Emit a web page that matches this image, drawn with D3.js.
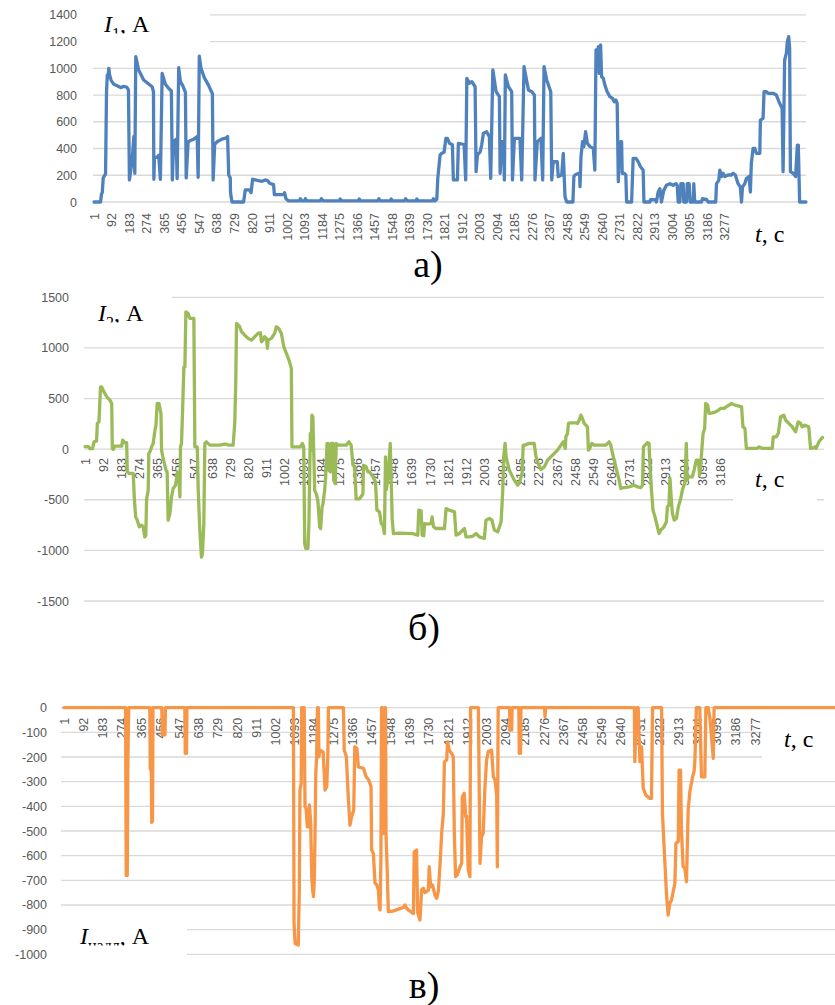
<!DOCTYPE html>
<html>
<head>
<meta charset="utf-8">
<script src="https://cdn.jsdelivr.net/npm/d3@7"></script>
<style>
  body { margin: 0; background: #fff; }
  svg { display: block; }
</style>
</head>
<body>
<svg id="chart" width="835" height="1005"></svg>
<script>
// ---- data -------------------------------------------------------------
const sampleCount = 3700;            // seconds of the recorded cycle

const categoryTicks = [1, 92, 183, 274, 365, 456, 547, 638, 729, 820, 911, 1002,
  1093, 1184, 1275, 1366, 1457, 1548, 1639, 1730, 1821, 1912, 2003, 2094, 2185,
  2276, 2367, 2458, 2549, 2640, 2731, 2822, 2913, 3004, 3095, 3186, 3277, 3368,
  3459, 3550, 3641];

const ticksI1 = [0, 200, 400, 600, 800, 1000, 1200, 1400];
const ticksI2 = [-1500, -1000, -500, 0, 500, 1000, 1500];
const ticksI3 = [0, -100, -200, -300, -400, -500, -600, -700, -800, -900, -1000];

// feeder current I1, A  — [t, value]
const currentI1 = [
  [1,0],[35,0],[40,60],[44,70],[49,180],[61,210],[66,820],[70,950],[73,930],[78,1000],[82,950],[90,910],
  [104,880],[121,870],[142,855],[153,865],[170,860],[180,840],[185,165],[199,310],[208,490],[213,215],
  [218,1087],[233,987],[259,912],[285,883],[303,862],[310,825],[312,170],[315,330],[329,335],[337,350],
  [346,170],[355,962],[372,880],[389,850],[403,830],[408,165],[415,450],[428,470],[433,175],[441,1005],
  [450,900],[462,870],[476,820],[480,180],[490,450],[502,460],[519,470],[537,490],[542,185],[548,1090],
  [557,1000],[574,930],[597,870],[616,810],[620,165],[628,430],[640,450],[666,470],[689,480],[695,490],
  [701,200],[709,180],[710,80],[713,40],[718,0],[778,0],[787,90],[809,90],[817,70],[825,170],[856,160],
  [874,155],[891,165],[903,160],[913,140],[934,130],[938,55],[986,55],[991,70],[998,25],[1012,8],
  [1068,8],[1073,25],[1080,8],[1095,8],[1099,25],[1106,8],[1176,8],[1182,25],[1192,8],[1275,8],[1280,22],
  [1288,8],[1374,8],[1379,22],[1387,8],[1476,8],[1481,25],[1489,8],[1540,8],[1545,22],[1552,8],[1615,8],
  [1620,25],[1628,8],[1673,8],[1678,22],[1685,8],[1759,8],[1764,25],[1772,8],[1782,20],[1787,177],
  [1799,352],[1808,364],[1820,374],[1829,476],[1837,476],[1848,439],[1863,429],[1868,165],[1889,165],
  [1894,439],[1924,430],[1932,165],[1938,925],[1951,888],[1964,900],[1981,862],[1986,227],[1993,352],
  [2007,374],[2015,426],[2024,514],[2041,526],[2055,489],[2062,177],[2073,987],[2090,825],[2107,788],
  [2111,215],[2119,451],[2128,451],[2133,165],[2138,950],[2154,862],[2171,825],[2175,165],[2185,476],
  [2214,476],[2223,165],[2235,1012],[2258,838],[2275,825],[2289,800],[2292,165],[2304,451],[2323,476],
  [2332,165],[2339,1012],[2353,912],[2374,825],[2379,165],[2387,301],[2408,301],[2413,190],[2431,202],
  [2439,364],[2448,40],[2457,0],[2489,0],[2494,190],[2500,202],[2517,214],[2524,214],[2526,115],
  [2531,339],[2539,451],[2546,414],[2555,526],[2564,439],[2578,414],[2595,401],[2603,239],[2609,1137],
  [2616,1087],[2621,1162],[2626,962],[2633,1174],[2638,937],[2647,925],[2655,875],[2667,825],[2681,788],
  [2695,775],[2704,750],[2712,763],[2719,738],[2725,152],[2730,439],[2737,451],[2742,451],[2745,215],
  [2754,215],[2764,202],[2768,0],[2794,0],[2802,327],[2816,327],[2828,302],[2840,264],[2854,239],
  [2858,0],[2889,0],[2892,17],[2920,17],[2923,0],[2932,75],[2941,100],[2949,0],[2961,87],[2975,125],
  [2993,137],[3010,125],[3024,137],[3031,125],[3036,0],[3045,0],[3050,137],[3062,137],[3065,0],[3079,0],
  [3083,137],[3093,137],[3098,0],[3114,0],[3117,137],[3122,0],[3157,0],[3162,25],[3183,20],[3192,0],
  [3231,0],[3235,137],[3247,162],[3252,239],[3261,190],[3269,215],[3278,190],[3295,202],[3313,202],
  [3321,215],[3333,202],[3347,137],[3359,112],[3365,0],[3370,112],[3382,137],[3390,175],[3404,190],
  [3411,75],[3416,289],[3425,401],[3434,401],[3442,364],[3460,364],[3463,613],[3477,626],[3482,825],
  [3494,825],[3503,813],[3529,813],[3546,800],[3563,738],[3576,701],[3581,227],[3589,1062],[3598,1112],
  [3603,1199],[3610,1237],[3615,1149],[3619,227],[3633,215],[3646,190],[3655,426],[3660,426],[3667,0],
  [3700,0]
];

// feeder current I2, A
const currentI2 = [
  [1,25],[18,25],[26,5],[39,5],[46,72],[59,82],[63,254],[71,270],[79,616],[84,616],[96,566],[110,517],
  [126,484],[135,451],[138,5],[143,-3],[148,30],[185,30],[190,89],[201,63],[210,63],[213,-224],[223,-240],
  [243,-240],[248,-471],[255,-669],[263,-702],[273,-768],[285,-751],[293,-768],[301,-867],[306,-850],
  [310,-491],[318,-409],[321,-43],[330,-10],[335,23],[343,56],[352,188],[357,237],[363,451],[372,451],
  [382,352],[385,-10],[393,-92],[407,-208],[413,-224],[418,-702],[427,-636],[435,-471],[443,-389],
  [455,-356],[465,-224],[473,-323],[477,-471],[480,23],[485,56],[490,352],[497,813],[502,813],[507,1357],
  [518,1340],[527,1291],[547,1291],[552,23],[564,23],[569,-409],[577,-805],[585,-1067],[590,-1034],
  [597,-735],[602,56],[610,72],[627,40],[677,40],[702,50],[710,50],[719,40],[744,40],[752,254],[757,649],
  [761,1242],[777,1209],[786,1160],[802,1127],[819,1094],[836,1077],[852,1110],[869,1143],[881,1150],
  [886,1061],[894,1077],[902,1110],[911,1094],[916,995],[919,1077],[936,1094],[952,1143],[961,1209],
  [972,1193],[986,1143],[998,1012],[1011,946],[1024,880],[1036,798],[1039,23],[1081,23],[1091,56],
  [1098,23],[1103,-932],[1108,-981],[1119,-981],[1124,-735],[1128,-257],[1131,155],[1136,-10],[1139,336],
  [1144,320],[1153,-409],[1161,-442],[1169,-508],[1178,-768],[1183,-784],[1190,-570],[1195,-537],
  [1203,-409],[1208,-277],[1215,56],[1220,56],[1225,-208],[1231,-224],[1236,56],[1245,56],[1248,-306],
  [1256,-339],[1261,56],[1270,40],[1311,40],[1325,72],[1336,40],[1345,-158],[1353,-174],[1361,-491],
  [1378,-491],[1386,-468],[1395,-442],[1398,-158],[1411,-174],[1420,-224],[1428,-224],[1445,-273],
  [1458,-323],[1465,-603],[1478,-620],[1487,-735],[1495,-751],[1503,-834],[1508,-76],[1512,-400],
  [1520,-293],[1532,56],[1542,-702],[1548,-834],[1578,-830],[1645,-834],[1670,-850],[1675,-603],
  [1687,-610],[1692,-850],[1700,-855],[1704,-735],[1712,-740],[1737,-735],[1742,-669],[1749,-768],
  [1762,-784],[1804,-784],[1812,-587],[1829,-603],[1854,-619],[1862,-850],[1879,-833],[1904,-784],
  [1912,-866],[1929,-866],[1946,-860],[1962,-833],[1979,-866],[2004,-883],[2012,-701],[2029,-685],
  [2042,-700],[2054,-800],[2071,-817],[2088,-718],[2096,-421],[2101,-76],[2108,56],[2113,-76],[2129,-208],
  [2154,-306],[2171,-356],[2179,-339],[2193,-240],[2199,40],[2209,40],[2226,56],[2254,56],[2263,-76],
  [2274,-142],[2288,-201],[2305,-175],[2321,-109],[2346,-59],[2371,-10],[2388,40],[2400,72],[2410,7],
  [2413,122],[2421,155],[2426,254],[2438,260],[2463,260],[2471,254],[2480,287],[2488,336],[2496,303],
  [2505,254],[2521,221],[2526,-10],[2533,7],[2543,56],[2555,40],[2613,40],[2630,72],[2638,40],[2647,-43],
  [2663,-175],[2680,-306],[2688,-389],[2705,-379],[2730,-372],[2755,-356],[2772,-372],[2789,-379],
  [2797,-356],[2802,23],[2810,40],[2822,63],[2830,56],[2835,-175],[2842,-405],[2850,-603],[2860,-669],
  [2872,-767],[2880,-833],[2889,-800],[2905,-767],[2917,-718],[2922,-570],[2930,-553],[2935,-290],
  [2942,-504],[2947,-635],[2956,-701],[2967,-685],[2977,-570],[2989,-488],[2997,-405],[3011,-323],
  [3017,56],[3021,-306],[3027,-273],[3047,-273],[3056,-208],[3067,-109],[3077,-109],[3084,-257],
  [3092,-76],[3101,155],[3109,204],[3114,451],[3124,435],[3131,353],[3147,359],[3164,369],[3178,386],
  [3189,402],[3206,402],[3223,425],[3244,451],[3261,435],[3281,425],[3294,418],[3301,221],[3311,204],
  [3318,7],[3339,7],[3373,7],[3381,23],[3398,7],[3448,7],[3453,122],[3468,122],[3478,155],[3490,320],
  [3506,336],[3515,287],[3531,254],[3548,221],[3565,171],[3578,270],[3590,254],[3598,221],[3611,237],
  [3631,221],[3640,7],[3648,7],[3662,23],[3668,7],[3682,72],[3695,105],[3700,115]
];

// excess (overload) current I_надл, A
const currentExcess = [
  [1,0],[293,0],[296,-680],[301,-680],[304,-200],[308,0],[408,0],[410,-250],[415,-240],[417,-465],
  [421,-460],[423,0],[465,0],[467,-110],[480,-110],[482,0],[574,0],[576,-185],[582,-185],[584,0],
  [1089,0],[1092,-874],[1097,-956],[1112,-962],[1117,-739],[1120,-334],[1126,-307],[1128,0],[1140,0],
  [1144,-401],[1149,-408],[1155,-483],[1160,-483],[1165,-394],[1171,-469],[1176,-685],[1180,-739],
  [1184,-766],[1188,-700],[1192,-483],[1195,-266],[1199,-199],[1203,0],[1207,0],[1210,-199],[1215,-172],
  [1230,-180],[1239,-334],[1247,-320],[1252,-200],[1255,0],[1326,0],[1330,-172],[1340,-199],[1349,-361],
  [1357,-476],[1365,-442],[1375,-415],[1380,-158],[1390,-165],[1397,-240],[1421,-246],[1434,-280],
  [1446,-293],[1457,-320],[1460,-577],[1468,-590],[1476,-712],[1484,-718],[1492,-739],[1497,-813],
  [1500,-820],[1504,-600],[1507,0],[1512,0],[1515,-510],[1520,-510],[1523,0],[1526,0],[1528,-510],
  [1534,-665],[1539,-827],[1560,-825],[1594,-815],[1610,-810],[1618,-800],[1626,-815],[1650,-830],
  [1658,-835],[1662,-584],[1673,-577],[1678,-830],[1689,-861],[1697,-739],[1705,-732],[1713,-750],
  [1729,-740],[1733,-645],[1740,-726],[1749,-719],[1760,-760],[1768,-773],[1776,-746],[1784,-640],
  [1792,-509],[1800,-428],[1805,-219],[1816,-212],[1820,-138],[1828,-172],[1839,-185],[1847,-199],
  [1852,-509],[1858,-685],[1866,-678],[1879,-645],[1887,-631],[1890,-361],[1899,-347],[1906,-442],
  [1910,-440],[1918,-658],[1926,-685],[1929,0],[1966,0],[1974,-631],[1981,-523],[1989,-509],[1997,-327],
  [2005,-212],[2013,-178],[2029,-172],[2037,-280],[2045,-293],[2053,-354],[2056,-645],[2060,0],[2114,0],
  [2116,-91],[2124,-91],[2126,0],[2158,0],[2160,-185],[2166,-185],[2168,0],[2280,0],[2282,-37],[2285,0],
  [2706,0],[2708,-219],[2716,0],[2724,0],[2732,-219],[2740,-159],[2748,-327],[2760,-354],[2779,-368],
  [2787,-368],[2792,0],[2835,0],[2839,-428],[2850,-618],[2858,-753],[2866,-841],[2874,-793],[2882,-780],
  [2898,-712],[2903,-550],[2914,-543],[2918,-253],[2925,-253],[2929,-496],[2937,-645],[2945,-650],
  [2953,-706],[2961,-415],[2969,-340],[2982,-280],[2989,-259],[2993,-212],[3000,0],[3016,0],[3024,-280],
  [3040,-280],[3045,0],[3056,0],[3064,-40],[3080,-205],[3084,0],[3700,0]
];

// ---- drawing ----------------------------------------------------------
const svg = d3.select("#chart");
const TICK_FONT = "'Liberation Sans', Arial, sans-serif";
const SERIF = "'Liberation Serif', 'Times New Roman', serif";
const GRID = "#d9d9d9";
const TICK_COLOR = "#595959";
const plainNumber = d => String(d);   // hyphen-minus, no grouping

function drawPanel(p) {
  const g = svg.append("g");
  const x = d3.scaleLinear().domain([1, sampleCount]).range([p.xFirst, p.xLast]);
  const y = d3.scaleLinear().domain(p.yDomain).range(p.yRange);

  // horizontal gridlines
  g.append("g").selectAll("line").data(p.yTicks).join("line")
    .attr("x1", p.gridLeft).attr("x2", p.gridRight)
    .attr("y1", d => y(d)).attr("y2", d => y(d))
    .attr("stroke", GRID).attr("stroke-width", 1.3);

  // value axis labels
  const yAxis = d3.axisLeft(y).tickValues(p.yTicks).tickSize(0).tickPadding(0)
    .tickFormat(plainNumber);
  const ya = g.append("g").attr("transform", `translate(${p.yLabelRight},0)`).call(yAxis);
  ya.select(".domain").remove();
  ya.selectAll("text").attr("font-family", TICK_FONT).attr("font-size", 12.5)
    .attr("fill", TICK_COLOR);

  // category labels (rotated), hung from the zero level; only those inside the page
  const zeroY = y(0);
  const shownTicks = categoryTicks.filter(t => x(t) < 828);
  const xAxis = d3.axisBottom(x).tickValues(shownTicks).tickSize(0).tickPadding(0)
    .tickFormat(plainNumber);
  const xa = g.append("g").attr("transform", `translate(0,${zeroY + p.labelGap})`).call(xAxis);
  xa.select(".domain").remove();
  xa.selectAll("text")
    .attr("font-family", TICK_FONT).attr("font-size", 12.5).attr("fill", TICK_COLOR)
    .attr("transform", "rotate(-90)").attr("text-anchor", "end")
    .attr("x", 0).attr("y", 0).attr("dy", "0.35em");

  // series line
  const line = d3.line().x(d => x(d[0])).y(d => y(d[1]));
  g.append("path").datum(p.data)
    .attr("d", line).attr("fill", "none")
    .attr("stroke", p.color).attr("stroke-width", 3.3)
    .attr("stroke-linejoin", "round").attr("stroke-linecap", "round");

  // white label boxes over the plot
  p.boxes.forEach(b => {
    g.append("rect").attr("x", b.x).attr("y", b.y).attr("width", b.w).attr("height", b.h)
      .attr("fill", "#fff");
  });
  return g;
}

function currentTitle(g, id, x, baseline, sub, clipBottom) {
  const clip = svg.append("clipPath").attr("id", id);
  clip.append("rect").attr("x", x - 10).attr("y", baseline - 40)
    .attr("width", 140).attr("height", clipBottom - (baseline - 40));
  const t = g.append("text").attr("clip-path", `url(#${id})`)
    .attr("x", x).attr("y", baseline)
    .attr("font-family", SERIF).attr("font-size", 24).attr("fill", "#000");
  t.append("tspan").attr("font-style", "italic").text("I");
  t.append("tspan").attr("font-size", 16).attr("dy", 7).text(sub);
  t.append("tspan").attr("dy", -7).text(", А");
}

function timeTitle(g, x, baseline) {
  const t = g.append("text").attr("x", x).attr("y", baseline)
    .attr("font-family", SERIF).attr("font-size", 24).attr("fill", "#000");
  t.append("tspan").attr("font-style", "italic").text("t");
  t.append("tspan").text(", с");
}

function panelLetter(x, baseline, label) {
  svg.append("text").attr("x", x).attr("y", baseline).attr("text-anchor", "middle")
    .attr("font-family", SERIF).attr("font-size", 38).attr("fill", "#000").text(label);
}

// panel а) — I1
const gA = drawPanel({
  data: currentI1, color: "#4f81bd",
  xFirst: 94, xLast: 806, gridLeft: 93, gridRight: 806,
  yDomain: [0, 1400], yRange: [202, 14.8], yTicks: ticksI1,
  yLabelRight: 77, labelGap: 11,
  boxes: [{x: 93, y: 6, w: 117, h: 40}, {x: 735, y: 206, w: 80, h: 48}]
});
currentTitle(gA, "clipA", 104, 32, "1", 33.5);
timeTitle(gA, 755, 242);
panelLetter(428, 277, "а)");

// panel б) — I2
const gB = drawPanel({
  data: currentI2, color: "#9bbb59",
  xFirst: 85, xLast: 822.5, gridLeft: 84, gridRight: 824,
  yDomain: [-1500, 1500], yRange: [601, 297.3], yTicks: ticksI2,
  yLabelRight: 69, labelGap: 9,
  boxes: [{x: 84, y: 288, w: 88, h: 44}, {x: 733, y: 452, w: 84, h: 52}]
});
currentTitle(gB, "clipB", 98, 321, "2", 322.5);
timeTitle(gB, 755, 487);
panelLetter(424, 640, "б)");

// panel в) — excess current
const gC = drawPanel({
  data: currentExcess, color: "#f79646",
  xFirst: 64, xLast: 844, gridLeft: 61, gridRight: 850,
  yDomain: [-1000, 0], yRange: [954.3, 707.7], yTicks: ticksI3,
  yLabelRight: 47, labelGap: 10,
  boxes: [{x: 61, y: 915, w: 126, h: 46}, {x: 762, y: 712, w: 80, h: 50}]
});
currentTitle(gC, "clipC", 80, 944, "надл", 945.5);
timeTitle(gC, 784, 747);
panelLetter(424, 998, "в)");
</script>
</body>
</html>
